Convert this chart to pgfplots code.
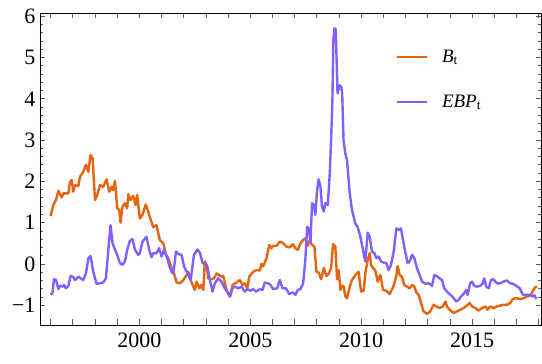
\documentclass[border=0pt]{standalone}
\usepackage{fontspec}
\setmainfont{Liberation Serif}
\usepackage{pgfplots}
\pgfplotsset{compat=1.18}
\definecolor{bcol}{RGB}{230,100,16}
\definecolor{ecol}{RGB}{128,96,255}
\begin{document}
\begin{tikzpicture}
\begin{axis}[
  name=ax,
  scale only axis,
  width=501pt, height=312pt,
  xmin=1995.52, xmax=2018.1,
  ymin=-1.48, ymax=6.08,
  axis line style={black, line width=0.8pt},
  tick align=inside,
  xtick={1996,...,2018},
  xticklabels={,,,,2000,,,,,2005,,,,,2010,,,,,2015,,,},
  ytick={-1,...,6},
  yticklabels={−1,0,1,2,3,4,5,6},
  minor y tick num=4,
  major tick length=5.5pt,
  minor tick length=3.5pt,
  every tick/.style={black!65, line width=0.8pt},
  tick label style={font=\fontsize{22}{24}\selectfont, black},
  xticklabel style={yshift=-4pt},
  yticklabel style={xshift=-1pt},
  legend style={draw=none, fill=none, at={(0.705,0.895)}, anchor=north west,
    font=\fontsize{19}{22}\selectfont, row sep=27pt, column sep=12pt},
  legend cell align=left,
  legend image code/.code={\draw[#1, line width=1.6pt] (0pt,0pt) -- (30pt,0pt);},
  every axis plot/.append style={line width=2.4pt, line join=round},
]
\addplot[bcol] coordinates {
(1996.00,1.16)(1996.12,1.43)(1996.24,1.55)(1996.35,1.77)(1996.50,1.61)(1996.57,1.71)(1996.80,1.71)(1996.87,1.99)(1996.95,2.03)(1997.02,1.75)(1997.10,1.91)(1997.25,1.89)(1997.32,2.11)(1997.47,2.23)(1997.59,2.40)(1997.70,2.23)(1997.80,2.64)(1997.89,2.56)(1998.00,1.55)(1998.10,1.67)(1998.22,1.91)(1998.37,1.87)(1998.52,2.05)(1998.64,1.75)(1998.75,1.87)(1998.82,1.79)(1998.90,2.01)(1999.00,1.35)(1999.09,1.31)(1999.15,1.00)(1999.24,1.39)(1999.35,1.47)(1999.45,1.35)(1999.50,1.69)(1999.60,1.55)(1999.72,1.65)(1999.83,1.43)(1999.90,1.67)(2000.02,1.10)(2000.14,1.19)(2000.29,1.44)(2000.44,1.19)(2000.62,0.89)(2000.77,0.94)(2000.92,0.58)(2001.08,0.50)(2001.20,0.22)(2001.30,0.14)(2001.45,-0.10)(2001.56,-0.23)(2001.68,-0.45)(2001.83,-0.47)(2001.98,-0.39)(2002.13,-0.27)(2002.20,-0.19)(2002.31,-0.39)(2002.43,-0.55)(2002.50,-0.63)(2002.58,-0.43)(2002.70,-0.59)(2002.77,-0.51)(2002.88,-0.63)(2002.95,0.06)(2003.03,-0.02)(2003.10,-0.35)(2003.25,-0.37)(2003.36,-0.35)(2003.48,-0.23)(2003.60,-0.27)(2003.70,-0.31)(2003.78,-0.29)(2003.93,-0.63)(2004.08,-0.79)(2004.20,-0.51)(2004.38,-0.45)(2004.53,-0.39)(2004.65,-0.51)(2004.75,-0.47)(2004.86,-0.59)(2004.95,-0.31)(2005.13,-0.19)(2005.28,-0.15)(2005.43,-0.16)(2005.50,0.00)(2005.58,-0.06)(2005.73,0.14)(2005.85,0.46)(2005.95,0.38)(2006.03,0.44)(2006.18,0.44)(2006.33,0.54)(2006.48,0.50)(2006.63,0.42)(2006.78,0.40)(2006.92,0.48)(2007.03,0.38)(2007.14,0.34)(2007.26,0.50)(2007.38,0.58)(2007.48,0.62)(2007.59,0.44)(2007.68,0.58)(2007.78,0.46)(2007.89,0.42)(2007.98,-0.19)(2008.08,-0.21)(2008.19,-0.37)(2008.31,-0.10)(2008.43,-0.29)(2008.53,-0.24)(2008.64,-0.10)(2008.73,0.48)(2008.83,0.42)(2008.91,-0.37)(2008.98,-0.15)(2009.06,-0.63)(2009.13,-0.53)(2009.21,-0.55)(2009.28,-0.79)(2009.36,-0.83)(2009.48,-0.55)(2009.58,-0.39)(2009.73,-0.27)(2009.88,-0.19)(2009.99,-0.67)(2010.11,-0.65)(2010.18,-0.23)(2010.29,0.10)(2010.38,0.26)(2010.44,-0.02)(2010.53,-0.10)(2010.63,-0.15)(2010.74,-0.43)(2010.86,-0.27)(2010.98,-0.63)(2011.13,-0.65)(2011.28,-0.73)(2011.46,-0.53)(2011.58,-0.29)(2011.64,-0.05)(2011.73,-0.27)(2011.83,-0.31)(2011.94,-0.51)(2012.06,-0.55)(2012.18,-0.59)(2012.29,-0.51)(2012.39,-0.55)(2012.48,-0.69)(2012.59,-0.75)(2012.69,-0.94)(2012.81,-1.15)(2012.96,-1.21)(2013.11,-1.15)(2013.26,-0.99)(2013.38,-1.03)(2013.53,-1.07)(2013.68,-1.03)(2013.79,-0.91)(2013.86,-1.03)(2013.98,-1.11)(2014.16,-1.19)(2014.31,-1.15)(2014.46,-1.11)(2014.61,-1.07)(2014.76,-1.01)(2014.88,-0.95)(2014.99,-1.03)(2015.14,-1.07)(2015.29,-1.13)(2015.44,-1.07)(2015.59,-1.03)(2015.69,-1.11)(2015.81,-1.03)(2015.96,-1.07)(2016.11,-1.03)(2016.26,-1.01)(2016.41,-0.99)(2016.56,-0.99)(2016.71,-0.95)(2016.83,-0.85)(2016.98,-0.83)(2017.17,-0.85)(2017.32,-0.83)(2017.47,-0.79)(2017.62,-0.77)(2017.74,-0.65)(2017.84,-0.56)(2017.92,-0.56)
};
\addlegendentry{\textit{B}\textsubscript{t}}
\addplot[ecol] coordinates {
(1996.00,-0.75)(1996.08,-0.71)(1996.15,-0.37)(1996.24,-0.39)(1996.35,-0.61)(1996.42,-0.53)(1996.54,-0.55)(1996.60,-0.51)(1996.69,-0.59)(1996.80,-0.53)(1996.90,-0.29)(1997.02,-0.32)(1997.10,-0.39)(1997.25,-0.31)(1997.35,-0.35)(1997.47,-0.39)(1997.59,-0.23)(1997.70,0.14)(1997.80,0.19)(1997.92,-0.19)(1998.07,-0.48)(1998.22,-0.47)(1998.37,-0.45)(1998.49,-0.35)(1998.60,0.34)(1998.70,0.94)(1998.79,0.50)(1998.90,0.34)(1999.00,0.22)(1999.12,0.02)(1999.24,-0.02)(1999.35,0.06)(1999.45,0.34)(1999.57,0.56)(1999.69,0.60)(1999.80,0.34)(1999.95,0.22)(2000.02,0.26)(2000.14,0.54)(2000.32,0.66)(2000.44,0.34)(2000.55,0.16)(2000.62,0.26)(2000.77,0.26)(2000.89,0.38)(2001.00,0.18)(2001.11,0.34)(2001.23,0.18)(2001.35,-0.05)(2001.45,-0.19)(2001.53,-0.23)(2001.65,0.30)(2001.75,0.24)(2001.90,0.22)(2002.01,-0.06)(2002.13,-0.19)(2002.31,-0.39)(2002.46,0.22)(2002.61,0.35)(2002.73,0.27)(2002.85,0.02)(2002.95,0.00)(2003.06,-0.06)(2003.18,-0.39)(2003.30,-0.67)(2003.40,-0.47)(2003.55,-0.35)(2003.70,-0.43)(2003.85,-0.59)(2004.00,-0.71)(2004.08,-0.79)(2004.20,-0.59)(2004.30,-0.55)(2004.45,-0.59)(2004.60,-0.55)(2004.75,-0.67)(2004.86,-0.61)(2005.01,-0.65)(2005.13,-0.61)(2005.25,-0.67)(2005.43,-0.61)(2005.55,-0.63)(2005.65,-0.45)(2005.80,-0.47)(2005.91,-0.51)(2006.03,-0.61)(2006.21,-0.59)(2006.33,-0.39)(2006.45,-0.59)(2006.60,-0.59)(2006.75,-0.73)(2006.92,-0.69)(2007.03,-0.75)(2007.14,-0.63)(2007.26,-0.61)(2007.38,-0.47)(2007.48,0.10)(2007.56,0.90)(2007.63,0.86)(2007.71,0.50)(2007.78,1.47)(2007.86,1.43)(2007.93,1.19)(2008.01,1.79)(2008.08,2.05)(2008.16,1.87)(2008.23,1.39)(2008.31,1.27)(2008.38,1.47)(2008.49,1.43)(2008.58,2.19)(2008.64,3.00)(2008.70,4.00)(2008.74,5.40)(2008.79,5.71)(2008.85,5.68)(2008.93,4.13)(2009.02,4.33)(2009.10,4.29)(2009.14,4.13)(2009.20,3.00)(2009.28,2.68)(2009.36,2.50)(2009.48,1.71)(2009.58,1.31)(2009.73,0.98)(2009.84,0.89)(2009.96,0.66)(2010.08,0.34)(2010.18,0.06)(2010.29,0.76)(2010.38,0.66)(2010.48,0.30)(2010.59,0.26)(2010.68,0.14)(2010.78,0.18)(2010.89,0.06)(2011.01,0.03)(2011.13,0.02)(2011.23,-0.15)(2011.34,-0.02)(2011.46,0.30)(2011.58,0.86)(2011.68,0.82)(2011.79,0.86)(2011.88,0.58)(2011.98,0.30)(2012.09,0.02)(2012.18,0.06)(2012.29,0.22)(2012.39,0.14)(2012.51,-0.10)(2012.63,-0.27)(2012.74,-0.43)(2012.89,-0.48)(2013.04,-0.47)(2013.19,-0.53)(2013.29,-0.27)(2013.38,-0.29)(2013.53,-0.35)(2013.64,-0.39)(2013.74,-0.59)(2013.86,-0.67)(2013.98,-0.73)(2014.13,-0.81)(2014.28,-0.91)(2014.39,-0.87)(2014.49,-0.79)(2014.61,-0.73)(2014.73,-0.63)(2014.79,-0.75)(2014.91,-0.47)(2014.99,-0.43)(2015.09,-0.53)(2015.21,-0.55)(2015.36,-0.53)(2015.48,-0.47)(2015.54,-0.35)(2015.63,-0.55)(2015.75,-0.59)(2015.84,-0.39)(2015.96,-0.37)(2016.11,-0.47)(2016.26,-0.47)(2016.41,-0.43)(2016.56,-0.40)(2016.71,-0.47)(2016.83,-0.48)(2016.98,-0.53)(2017.14,-0.59)(2017.29,-0.75)(2017.47,-0.75)(2017.62,-0.75)(2017.74,-0.79)(2017.80,-0.76)(2017.89,-0.85)
};
\addlegendentry{\textit{EBP}\textsubscript{t}}
\end{axis}
\pgfresetboundingbox
\path ([shift={(-40pt,-39pt)}]ax.south west) rectangle ([shift={(1pt,13pt)}]ax.north east);
\end{tikzpicture}
\end{document}
